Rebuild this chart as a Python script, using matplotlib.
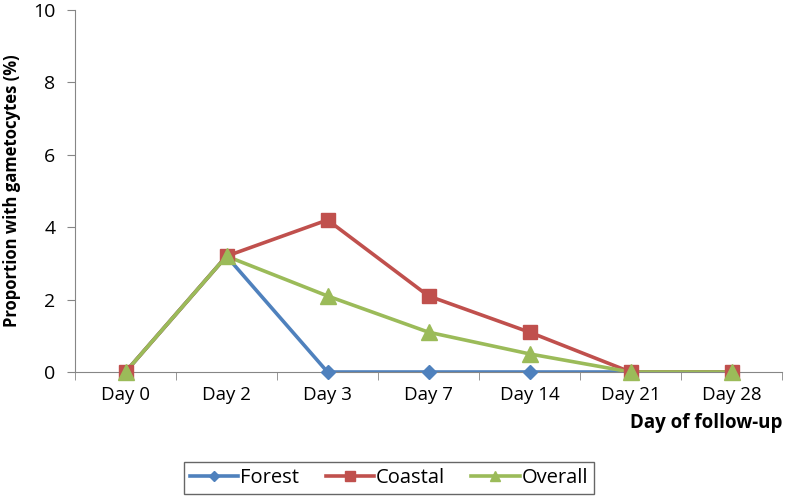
import numpy as np
import matplotlib
matplotlib.use("Agg")
import matplotlib.pyplot as plt

plt.rcParams['font.family'] = ['Open Sans', 'DejaVu Sans']

days = ["Day 0", "Day 2", "Day 3", "Day 7", "Day 14", "Day 21", "Day 28"]
forest = [0, 3.2, 0, 0, 0, 0, 0]
coastal = [0, 3.2, 4.2, 2.1, 1.1, 0, 0]
overall = [0, 3.2, 2.1, 1.1, 0.5, 0, 0]

fig = plt.figure(figsize=(7.89, 4.98), dpi=100)
ax = fig.add_axes([75 / 789, 1 - 372 / 498, 707 / 789, 362 / 498])

x = np.arange(len(days))
series = [
    ("Forest", forest, "#4F81BD", "D", 7),
    ("Coastal", coastal, "#C0504D", "s", 10),
    ("Overall", overall, "#9BBB59", "^", 11),
]
handles = []
for name, vals, col, mk, ms in series:
    ax.plot(x, vals, color=col, lw=2.6, solid_joinstyle='round')
    ax.plot(x, vals, ls='none', marker=mk, ms=ms, color=col, clip_on=False, zorder=3)
    h, = ax.plot([], [], color=col, lw=2.6, marker=mk, ms=ms * 0.7)
    handles.append(h)

ax.set_xlim(-0.5, len(days) - 0.5)
ax.set_ylim(0, 10)
ax.set_yticks([0, 2, 4, 6, 8, 10])
ax.set_xticks(x)
ax.set_xticklabels(days)
ax.set_xticks(np.arange(-0.5, len(days)), minor=True)
ax.tick_params(axis='x', which='major', length=0, pad=10, labelsize=13.5)
ax.tick_params(axis='x', which='minor', length=6, color='#868686', direction='out')
ax.tick_params(axis='y', length=6, color='#868686', labelsize=14, pad=8)
for s in ['top', 'right']:
    ax.spines[s].set_visible(False)
for s in ['left', 'bottom']:
    ax.spines[s].set_color('#868686')

ax.set_ylabel("Proportion with gametocytes (%)", fontweight='bold', fontsize=12)
ax.yaxis.set_label_coords(-54 / 707, 0.5)
fig.text(783 / 789, 1 - 423 / 498, "Day of follow-up", fontweight='bold', fontsize=13.5,
         ha='right', va='center')

leg = fig.legend(handles, ["Forest", "Coastal", "Overall"], ncol=3,
                 loc='center', bbox_to_anchor=(389 / 789, 1 - 478 / 498),
                 fontsize=14.5, frameon=True, fancybox=False, edgecolor='#404040',
                 handlelength=2.4, handletextpad=0.1, columnspacing=1.3,
                 borderpad=0.3)
leg.get_frame().set_linewidth(1.0)

fig.savefig("out.png", dpi=100)
